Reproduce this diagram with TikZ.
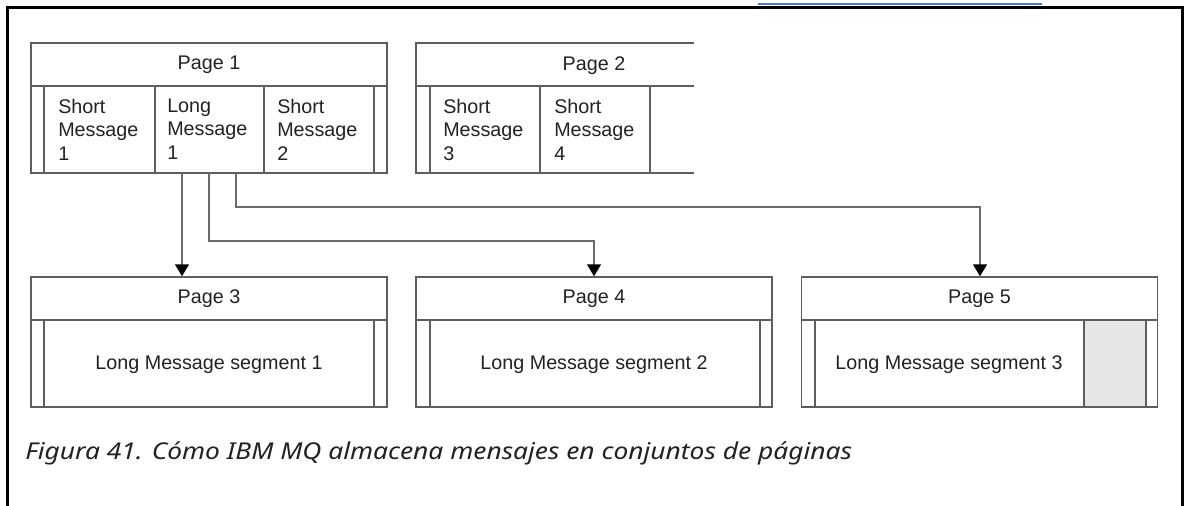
\documentclass[tikz,border=0pt]{standalone}
\usepackage{fontspec}
\usepackage{graphicx}
\setmainfont{Liberation Sans}
\newfontfamily\capfont{Noto Sans}
\usetikzlibrary{arrows.meta,calc}
\definecolor{linegray}{HTML}{5E5E5E}
\definecolor{arrgray}{HTML}{6A6A6A}
\definecolor{txt}{HTML}{222222}
\definecolor{fillgray}{HTML}{E6E6E6}
\definecolor{linkblue}{HTML}{4A7BD6}
\newcommand{\lblfont}{\fontsize{14.8pt}{17.6pt}\selectfont}
\begin{document}
\begin{tikzpicture}[x=0.75pt,y=-0.75pt,
  box/.style={draw=linegray, line width=1.1pt},
  hdr/.style={box, minimum width=267pt, minimum height=32.25pt, inner sep=0pt, font=\lblfont, text=txt},
  bodybox/.style={box, minimum width=267pt, minimum height=65.25pt, inner sep=0pt},
  cell/.style={anchor=north west, inner sep=0pt, align=left, font=\lblfont, text=txt},
  seg/.style={anchor=base, inner sep=0pt, font=\lblfont, text=txt},
  ptitle/.style={anchor=base, inner sep=0pt, font=\lblfont, text=txt},
  arr/.style={draw=arrgray, line width=1.1pt, -{Triangle[width=10.5pt,length=9pt,fill=black,color=black]}},
  frame/.style={draw=black, line width=2.2pt}
]
\useasboundingbox (0,0) rectangle (1184,506);
% outer frame and link underline
\draw[frame] (7.5,506) -- (7.5,7.5) -- (1182.5,7.5) -- (1182.5,506);
\draw[draw=linkblue, line width=0.8pt] (758,4) -- (1042,4);

% ---------- Page 1 ----------
\node[hdr] (p1) at (209,64.5) {Page 1};
\node[bodybox, minimum height=65.25pt] (p1b) at (209,129.5) {};
\foreach \xx in {44,155,264,374} \draw[box] (\xx,86) -- (\xx,173);
\node[cell] (sm1) at (58,98.6) {Short\\Message\\1};
\node[cell] (lm1) at (167,98.6) {Long\\Message\\1};
\node[cell] (sm2) at (277,98.6) {Short\\Message\\2};

% ---------- Page 2 (open on the right) ----------
\draw[box] (694,43) -- (416,43) -- (416,173) -- (694,173);
\draw[box] (416,86) -- (694,86);
\foreach \xx in {430,540,650} \draw[box] (\xx,86) -- (\xx,173);
\node[ptitle] (p2) at (594,71) {Page 2};
\node[cell] (sm3) at (443,98.6) {Short\\Message\\3};
\node[cell] (sm4) at (554,98.6) {Short\\Message\\4};

% ---------- Page 3 ----------
\node[hdr] (p3) at (209,298.5) {Page 3};
\node[bodybox] (p3b) at (209,363.5) {};
\foreach \xx in {44,374} \draw[box] (\xx,320) -- (\xx,407);
\node[seg] (s1) at (209,369) {Long Message segment 1};

% ---------- Page 4 ----------
\node[hdr] (p4) at (594,298.5) {Page 4};
\node[bodybox] (p4b) at (594,363.5) {};
\foreach \xx in {430,760} \draw[box] (\xx,320) -- (\xx,407);
\node[seg] (s2) at (594,369) {Long Message segment 2};

% ---------- Page 5 ----------
\node[hdr] (p5) at (979.5,298.5) {Page 5};
\fill[fillgray] (1084,320) rectangle (1146,407);
\node[bodybox] (p5b) at (979.5,363.5) {};
\foreach \xx in {815,1084,1146} \draw[box] (\xx,320) -- (\xx,407);
\node[seg] (s3) at (949,369) {Long Message segment 3};

% ---------- connectors ----------
\coordinate (o1) at (182,173);
\coordinate (o2) at (209,173);
\coordinate (o3) at (236,173);
\coordinate (k2) at (594,241);
\coordinate (k3) at (980,207);
\draw[arr] (o1) -- (o1 |- p3.north);
\draw[arr] (o2) |- (k2) -- (k2 |- p4.north);
\draw[arr] (o3) |- (k3) -- (k3 |- p5.north);

% ---------- caption ----------
\node[anchor=base west, inner sep=0pt, font=\capfont\itshape\fontsize{17.4pt}{20pt}\selectfont, text=txt] (cap) at (25,459) {\resizebox{620pt}{\height}{Figura 41. Cómo IBM MQ almacena mensajes en conjuntos de páginas}};
\end{tikzpicture}
\end{document}
